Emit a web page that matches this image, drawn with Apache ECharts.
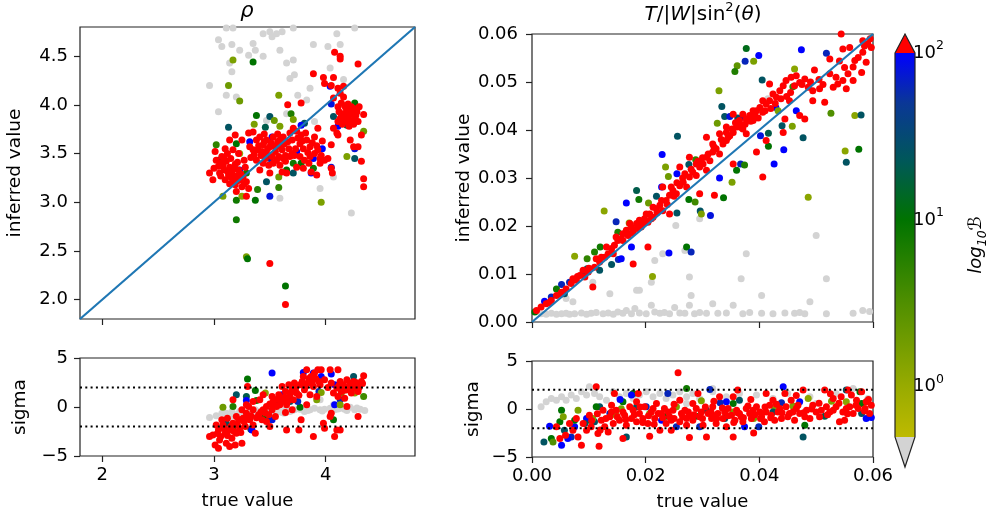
<!DOCTYPE html>
<html>
<head>
<meta charset="utf-8">
<script src="https://cdn.jsdelivr.net/npm/echarts@6/dist/echarts.min.js"></script>
<style>html,body{margin:0;background:#fff}#chart{width:990px;height:520px}</style>
</head>
<body>
<div id="chart"></div>
<script>
// axis ranges and ticks
const rhoRange = [1.8, 4.8]
const rhoXTicks = [2, 3, 4]
const rhoYTicks = [2.0, 2.5, 3.0, 3.5, 4.0, 4.5]
const twRange = [0, 0.06]
const twXTicks = [0, 0.02, 0.04, 0.06]
const twYTicks = [0, 0.01, 0.02, 0.03, 0.04, 0.05, 0.06]
const sigmaRange = [-5, 5]
const sigmaTicks = [-5, 0, 5]
const sigmaBand = [-2, 2]
const cbarRange = [0.5, 100]
const cbarDecades = [0, 1, 2]

// rho: inferred vs true. gray = B below range, red = B above range, mid = [x, y, log10 B]
const rhoGray = [[3.11,4.79],[3.17,4.79],[3.44,4.73],[3.50,4.75],[3.56,4.73],[3.61,4.75],[3.71,4.79],[4.10,4.73],[4.26,4.79],[3.04,4.67],[3.07,4.60],[3.16,4.62],[3.23,4.56],[3.35,4.63],[3.37,4.56],[3.44,4.50],[3.59,4.56],[3.52,4.70],[3.14,4.43],[3.16,4.34],[3.31,4.51],[3.65,4.43],[3.71,4.46],[3.89,4.62],[4.02,4.60],[4.13,4.62],[3.68,4.27],[3.72,4.31],[3.86,4.17],[3.75,4.10],[4.04,4.38],[4.16,4.26],[4.13,4.15],[2.96,4.20],[3.11,4.10],[3.20,4.08],[3.04,3.93],[3.65,3.91],[3.83,4.05],[3.95,3.14],[3.59,3.04],[4.23,2.89],[4.07,3.26],[3.47,3.84],[3.90,3.83]]
const rhoMid = [[3.17,4.46,0.2],[3.35,4.44,1.0],[3.13,4.20,0.3],[3.23,4.04,0.3],[3.58,4.10,0.2],[3.13,3.77,1.4],[3.38,3.89,1.0],[3.50,3.88,1.4],[3.54,3.84,0.3],[3.36,3.80,0.2],[3.46,3.77,1.3],[3.59,3.78,0.2],[3.69,3.91,0.8],[3.71,3.85,0.2],[3.02,3.59,0.7],[3.20,3.60,1.0],[3.23,3.50,0.1],[3.32,3.62,2.0],[3.52,3.67,2.0],[3.44,3.50,1.8],[3.47,3.21,1.4],[3.50,3.06,1.9],[3.58,3.15,0.7],[3.58,3.26,0.3],[3.37,3.02,1.0],[3.39,3.13,0.8],[3.25,3.06,0.1],[3.20,3.02,0.9],[3.20,2.82,0.9],[3.29,2.44,0.2],[3.30,2.42,1.0],[3.64,2.14,1.0],[3.08,3.06,0.2],[3.04,3.43,1.4],[3.71,3.40,0.9],[3.71,3.30,1.4],[3.78,3.40,1.0],[3.89,3.35,0.9],[3.87,3.30,2.0],[3.89,3.45,2.0],[3.97,3.55,2.0],[4.05,3.36,1.9],[3.96,3.00,0.2],[4.04,4.19,2.0],[4.05,4.01,1.9],[4.07,3.88,1.4],[4.11,3.78,2.0],[4.19,3.79,1.3],[4.25,3.81,1.9],[4.26,4.02,1.0],[4.34,3.73,0.3],[4.19,3.47,0.2],[4.26,3.45,1.4],[4.26,3.55,1.9],[3.81,3.81,1.4],[3.78,3.79,2.0],[3.74,3.52,2.0],[3.65,3.33,1.0],[3.63,3.62,0.2],[3.50,3.45,1.8],[3.29,3.30,0.9],[3.17,3.21,1.3],[3.23,3.33,1.9]]
const rhoRed = [[2.96,3.30],[2.99,3.23],[3.01,3.52],[3.02,3.43],[3.04,3.37],[3.05,3.30],[3.07,3.47],[3.08,3.38],[3.09,3.33],[3.10,3.23],[3.11,3.42],[3.13,3.28],[3.14,3.36],[3.14,3.19],[3.16,3.31],[3.17,3.24],[3.19,3.39],[3.19,3.18],[3.20,3.27],[3.22,3.33],[3.23,3.23],[3.25,3.16],[3.26,3.26],[3.28,3.36],[3.29,3.21],[3.31,3.14],[3.20,3.11],[3.29,3.06],[3.17,3.54],[3.10,3.55],[3.22,3.50],[3.19,3.69],[3.14,3.64],[3.25,3.64],[3.31,3.71],[3.35,3.72],[3.32,3.57],[3.35,3.54],
  [3.06,3.40],[3.09,3.45],[3.12,3.32],[3.15,3.26],[3.18,3.34],[3.21,3.22],[3.24,3.29],[3.27,3.19],[3.12,3.50],[3.06,3.27],[3.00,3.35],[3.15,3.45],[3.21,3.41],[3.27,3.43],[3.33,3.46],
  [3.38,3.64],[3.41,3.67],[3.44,3.59],[3.47,3.64],[3.50,3.57],[3.53,3.67],[3.56,3.57],[3.59,3.64],[3.62,3.67],[3.39,3.54],[3.42,3.48],[3.47,3.50],[3.52,3.47],[3.55,3.52],[3.58,3.47],[3.61,3.54],[3.64,3.48],[3.67,3.55],[3.38,3.43],[3.44,3.40],[3.49,3.38],[3.53,3.40],[3.59,3.38],[3.64,3.42],[3.68,3.47],[3.41,3.33],[3.50,3.30],[3.61,3.31],[3.65,3.30],[3.68,3.71],[3.71,3.76],[3.74,3.73],[3.70,3.64],[3.75,3.66],[3.78,3.69],
  [3.40,3.58],[3.45,3.62],[3.48,3.55],[3.51,3.61],[3.54,3.58],[3.57,3.62],[3.60,3.58],[3.63,3.60],[3.66,3.62],[3.43,3.52],[3.46,3.45],[3.56,3.43],[3.62,3.45],[3.70,3.50],[3.73,3.55],[3.36,3.49],[3.45,3.70],[3.57,3.70],
  [3.77,3.60],[3.80,3.55],[3.83,3.64],[3.86,3.57],[3.90,3.67],[3.93,3.76],[3.93,3.54],[3.96,3.48],[3.99,3.43],[3.72,3.48],[3.77,3.47],[3.81,3.43],[3.86,3.47],[3.90,3.50],[3.74,3.36],[3.80,3.35],[3.87,3.31],[3.92,3.28],[3.95,3.45],[4.02,3.45],
  [3.84,3.51],[3.88,3.61],[3.92,3.58],[3.79,3.63],[3.82,3.71],[3.97,3.63],[3.85,3.40],[3.95,3.40],
  [4.11,3.98],[4.14,4.02],[4.17,3.99],[4.20,4.01],[4.23,3.98],[4.26,3.96],[4.12,3.93],[4.16,3.91],[4.19,3.95],[4.22,3.93],[4.25,3.91],[4.28,3.93],[4.14,3.88],[4.17,3.86],[4.20,3.88],[4.23,3.84],[4.26,3.86],[4.11,3.83],[4.15,3.80],[4.21,3.78],[4.10,3.71],[4.29,3.83],[4.07,4.07],
  [4.18,3.97],[4.21,3.90],[4.24,3.95],[4.27,3.89],[4.13,3.86],[4.18,3.85],[4.25,3.80],[4.30,3.98],
  [4.08,4.54],[4.13,4.50],[4.13,4.47],[4.29,4.42],[3.89,4.32],[3.98,4.28],[4.07,4.28],[3.99,4.22],[4.05,4.20],[4.11,4.17],[4.13,4.12],[4.16,4.08],[4.16,4.19],[3.78,4.02],[3.66,4.00],[3.50,2.37],[3.64,1.95],[4.32,3.69],[4.34,3.90],[4.34,3.24],[4.34,3.16],[4.32,3.42],[4.29,3.57],[4.22,3.64],[4.25,3.57],[4.05,3.35],[4.06,3.30],[4.05,3.59],[4.11,3.69],[4.07,3.76],[4.19,3.83]]

// rho: sigma residuals
const rhoSigGray = [[2.96,-1.07],[3.02,-0.90],[3.07,-0.63],[3.11,-0.63],[3.16,-0.46],[3.19,-0.80],[3.23,-0.46],[3.28,-0.63],[3.32,-0.46],[3.37,-0.29],[3.41,-0.46],[3.46,-0.29],[3.50,-0.46],[3.55,-0.29],[3.59,-0.46],[3.64,-0.29],[3.68,-0.46],[3.72,-0.29],[3.77,-0.22],[3.81,-0.46],[3.86,-0.29],[3.90,-0.12],[3.95,-0.29],[3.99,-0.22],[4.04,-0.12],[4.08,-0.29],[4.13,-0.12],[4.17,-0.22],[4.22,-0.02],[4.26,-0.29],[4.31,-0.22],[4.35,-0.36],[3.95,0.73],[4.07,0.22],[3.63,-0.63],[3.35,-0.80],[3.14,-1.04],[3.25,-0.55],[3.43,-0.35],[3.53,-0.40],[3.70,-0.35],[3.84,-0.35],[3.97,-0.40],[4.11,-0.20],[4.19,-0.35],[4.28,-0.10],[3.61,-0.55]]
const rhoSigMid = [[3.30,2.85,1.0],[3.52,3.46,2.0],[3.20,1.25,1.4],[3.29,1.08,1.3],[3.37,1.69,1.0],[3.29,0.67,2.0],[3.38,0.67,0.9],[3.08,-0.02,0.3],[3.17,0.05,0.8],[3.17,-2.06,1.0],[3.25,-1.31,0.1],[3.11,-1.66,1.4],[3.33,-2.27,1.4],[3.34,-2.34,2.0],[3.47,-1.38,1.4],[3.52,-1.31,1.9],[3.56,0.73,1.4],[3.61,1.25,2.0],[3.65,0.90,0.2],[3.77,-0.02,1.0],[3.75,0.56,1.8],[3.80,3.53,2.0],[3.89,3.46,2.0],[3.96,3.12,2.0],[4.05,3.36,2.0],[3.94,1.59,1.8],[3.96,1.48,0.2],[3.92,0.73,0.2],[4.08,2.27,2.0],[4.08,0.22,2.0],[4.13,0.73,1.8],[4.14,1.42,0.3],[4.13,0.22,0.2],[4.07,-1.31,1.0],[4.19,1.76,0.2],[4.26,1.42,0.1],[4.25,3.12,1.4],[4.23,2.27,1.4],[4.34,1.08,0.6],[4.22,1.93,1.7],[3.46,1.42,0.1],[3.68,0.56,1.4],[3.44,-0.97,1.0]]
const rhoSigRed = [[2.96,-3.02],[3.01,-3.87],[3.04,-2.34],[3.05,-3.36],[3.08,-1.83],[3.10,-2.68],[3.11,-3.70],[3.14,-2.34],[3.16,-3.19],[3.17,-1.66],[3.19,-3.87],[3.20,-2.68],[3.22,-1.31],[3.23,-2.17],[3.25,-3.70],[3.26,-1.14],[3.28,-2.00],[3.29,-0.63],[3.31,0.05],[3.32,-1.31],[3.35,-1.83],[3.37,-2.68],[3.02,-1.83],[3.07,-1.31],[3.12,-1.14],[3.17,0.73],[3.20,-0.97],[3.25,-0.29],[3.30,2.10],[3.29,0.22],[3.04,-4.22],[3.14,-4.04],[2.99,-2.85],[3.35,-0.29],
  [3.03,-2.70],[3.06,-3.00],[3.09,-2.20],[3.12,-2.90],[3.15,-2.00],[3.18,-2.50],[3.21,-1.80],[3.24,-2.60],[3.27,-1.50],[3.30,-1.00],[3.33,-0.90],[3.38,-1.10],[3.42,-0.50],[3.46,-0.60],
  [3.40,-0.80],[3.43,-1.31],[3.44,-0.29],[3.47,0.05],[3.49,-0.80],[3.52,-0.29],[3.53,0.56],[3.55,-0.97],[3.56,0.05],[3.58,1.25],[3.59,0.22],[3.61,2.10],[3.62,0.73],[3.64,1.59],[3.65,0.22],[3.67,2.27],[3.68,1.25],[3.70,1.76],[3.71,0.73],[3.72,2.44],[3.74,1.42],[3.47,-1.49],[3.50,-2.00],[3.41,0.73],[3.44,1.25],[3.52,1.08],[3.35,0.56],[3.65,-2.34],[3.70,-0.29],[3.64,-0.56],[3.78,-1.31],[3.76,-2.34],[3.83,0.22],
  [3.50,0.30],[3.54,0.20],[3.57,0.80],[3.60,0.50],[3.63,1.00],[3.66,0.60],[3.69,1.50],[3.73,1.90],[3.76,1.20],[3.79,2.60],[3.82,2.10],[3.85,2.90],[3.88,2.50],[3.91,2.90],[3.94,2.60],
  [3.77,2.27],[3.80,3.12],[3.81,1.76],[3.83,3.80],[3.84,2.44],[3.86,1.25],[3.87,3.12],[3.89,2.10],[3.90,3.46],[3.92,1.08],[3.93,3.80],[3.95,2.27],[3.96,3.80],[3.99,2.78],[3.89,-3.02],[3.98,-1.66],[3.99,-2.17],
  [4.04,3.80],[4.11,3.80],[4.05,2.44],[4.07,1.42],[4.10,1.93],[4.11,1.08],[4.13,2.61],[4.14,1.59],[4.16,2.27],[4.17,0.90],[4.19,2.78],[4.20,1.76],[4.22,2.44],[4.23,1.42],[4.25,2.61],[4.26,1.93],[4.28,2.27],[4.29,1.59],[4.32,2.61],[4.34,3.19],[4.29,-0.97],[4.10,-2.34],[4.08,-3.02],[4.13,-2.34],[4.05,-0.63],[4.19,0.05],[4.04,-0.97],
  [4.02,2.00],[4.12,2.20],[4.17,1.70],[4.21,2.00],[4.24,2.20],[4.27,2.50],[4.30,2.00],[4.33,2.40]]

// T/|W| sin^2(theta): inferred vs true
const twGray = [[0.0016,0.0017],[0.0025,0.0016],[0.0034,0.0018],[0.0043,0.0016],[0.0052,0.0017],[0.0060,0.0018],[0.0066,0.0016],[0.0075,0.0017],[0.0087,0.0019],[0.0096,0.0016],[0.0104,0.0018],[0.0113,0.0020],[0.0125,0.0017],[0.0134,0.0019],[0.0143,0.0016],[0.0151,0.0021],[0.0160,0.0018],[0.0166,0.0024],[0.0175,0.0017],[0.0181,0.0028],[0.0189,0.0019],[0.0201,0.0017],[0.0210,0.0035],[0.0216,0.0021],[0.0225,0.0018],[0.0233,0.0020],[0.0242,0.0017],[0.0251,0.0030],[0.0260,0.0019],[0.0269,0.0018],[0.0277,0.0035],[0.0286,0.0017],[0.0295,0.0020],[0.0307,0.0018],[0.0318,0.0038],[0.0327,0.0018],[0.0342,0.0019],[0.0354,0.0035],[0.0371,0.0017],[0.0383,0.0020],[0.0404,0.0018],[0.0424,0.0017],[0.0445,0.0019],[0.0462,0.0018],[0.0471,0.0020],[0.0480,0.0017],[0.0489,0.0042],[0.0518,0.0017],[0.0565,0.0018],[0.0582,0.0024],[0.0594,0.0022],
  [0.0137,0.0059],[0.0184,0.0066],[0.0189,0.0066],[0.0216,0.0128],[0.0230,0.0142],[0.0253,0.0201],[0.0269,0.0149],[0.0277,0.0094],[0.0295,0.0215],[0.0280,0.0055],[0.0377,0.0142],[0.0368,0.0090],[0.0210,0.0083],[0.0404,0.0055],[0.0518,0.0090],[0.0500,0.0180],[0.0415,0.0465],[0.0107,0.0083],[0.0072,0.0042],[0.0060,0.0049]]
const twMid = [[0.0377,0.0570,1.1],[0.0474,0.0567,2.0],[0.0518,0.0560,1.8],[0.0375,0.0543,1.8],[0.0399,0.0555,2.0],[0.0361,0.0534,0.4],[0.0390,0.0543,0.2],[0.0357,0.0522,0.8],[0.0405,0.0504,1.4],[0.0462,0.0527,0.1],[0.0329,0.0482,0.2],[0.0459,0.0490,0.7],[0.0334,0.0449,1.4],[0.0526,0.0435,0.5],[0.0568,0.0430,0.1],[0.0579,0.0431,1.4],[0.0339,0.0428,1.4],[0.0348,0.0428,1.9],[0.0362,0.0425,1.4],[0.0371,0.0427,1.8],[0.0326,0.0414,0.3],[0.0440,0.0409,1.4],[0.0429,0.0447,2.0],[0.0465,0.0440,2.0],[0.0433,0.0440,0.2],[0.0477,0.0384,1.4],[0.0458,0.0408,0.2],[0.0416,0.0393,1.3],[0.0402,0.0388,1.9],[0.0256,0.0387,1.4],[0.0229,0.0349,2.0],[0.0416,0.0366,1.0],[0.0443,0.0359,2.0],[0.0551,0.0356,0.1],[0.0575,0.0360,1.0],[0.0553,0.0333,1.4],[0.0426,0.0329,2.0],[0.0367,0.0329,1.8],[0.0374,0.0327,0.8],[0.0360,0.0316,1.0],[0.0330,0.0300,2.0],[0.0352,0.0291,0.2],[0.0255,0.0309,2.0],[0.0235,0.0323,0.2],[0.0240,0.0303,0.3],[0.0228,0.0281,2.0],[0.0288,0.0338,0.7],[0.0276,0.0328,1.4],[0.0219,0.0262,1.4],[0.0276,0.0255,1.0],[0.0287,0.0250,0.6],[0.0486,0.0260,0.1],[0.0337,0.0259,1.0],[0.0296,0.0231,1.4],[0.0298,0.0225,0.2],[0.0314,0.0222,1.9],[0.0255,0.0227,1.4],[0.0184,0.0274,1.3],[0.0188,0.0255,0.9],[0.0205,0.0248,0.3],[0.0166,0.0248,2.0],[0.0148,0.0209,1.8],[0.0127,0.0231,0.1],[0.0171,0.0206,0.2],[0.0151,0.0187,0.8],[0.0120,0.0156,0.9],[0.0110,0.0146,0.8],[0.0075,0.0137,0.1],[0.0097,0.0132,0.7],[0.0097,0.0111,1.4],[0.0140,0.0120,1.4],[0.0152,0.0130,1.8],[0.0175,0.0156,2.0],[0.0241,0.0144,2.0],[0.0272,0.0156,1.0],[0.0280,0.0146,1.8],[0.0212,0.0095,0.1],[0.0090,0.0104,1.4],[0.0157,0.0132,2.0],[0.0052,0.0078,1.8],[0.0043,0.0069,0.9],[0.0022,0.0043,2.0],[0.0034,0.0052,1.8],[0.0005,0.0021,1.0],[0.0057,0.0059,1.4],[0.0066,0.0083,1.8],[0.0119,0.0108,1.4]]
const twRed = [[0.0008,0.0024],[0.0016,0.0031],[0.0025,0.0038],[0.0034,0.0045],[0.0043,0.0055],[0.0052,0.0062],[0.0060,0.0069],[0.0069,0.0080],[0.0078,0.0087],[0.0084,0.0097],[0.0093,0.0094],[0.0099,0.0104],[0.0107,0.0073],[0.0110,0.0114],[0.0119,0.0125],[0.0128,0.0135],[0.0134,0.0142],[0.0140,0.0153],[0.0145,0.0160],[0.0151,0.0170],[0.0157,0.0173],[0.0160,0.0184],[0.0166,0.0191],[0.0169,0.0180],[0.0175,0.0198],[0.0178,0.0187],[0.0184,0.0205],[0.0189,0.0212],[0.0192,0.0198],[0.0198,0.0215],[0.0204,0.0208],[0.0207,0.0225],[0.0213,0.0218],[0.0219,0.0236],[0.0225,0.0243],[0.0230,0.0232],[0.0236,0.0253],[0.0242,0.0264],[0.0248,0.0274],[0.0254,0.0267],[0.0260,0.0284],[0.0266,0.0291],[0.0272,0.0281],[0.0277,0.0302],[0.0283,0.0312],[0.0289,0.0305],[0.0295,0.0323],[0.0301,0.0329],[0.0307,0.0343],[0.0313,0.0336],[0.0318,0.0354],[0.0324,0.0361],[0.0330,0.0350],[0.0336,0.0371],[0.0342,0.0378],[0.0348,0.0388],[0.0354,0.0395],[0.0360,0.0406],[0.0365,0.0413],[0.0371,0.0402],[0.0377,0.0423],[0.0383,0.0430],[0.0389,0.0420],[0.0395,0.0440],[0.0401,0.0447],[0.0406,0.0437],[0.0412,0.0454],[0.0418,0.0461],[0.0424,0.0475],[0.0430,0.0468],[0.0436,0.0482],[0.0442,0.0492],[0.0447,0.0503],[0.0456,0.0510],[0.0465,0.0513],[0.0471,0.0499],[0.0480,0.0506],[0.0486,0.0489],[0.0494,0.0482],[0.0506,0.0486],[0.0515,0.0458],[0.0530,0.0489],[0.0538,0.0496],[0.0547,0.0503],[0.0553,0.0486],[0.0556,0.0517],[0.0565,0.0531],[0.0574,0.0551],[0.0582,0.0562],[0.0588,0.0541],[0.0591,0.0579],[0.0597,0.0572],[0.0559,0.0572],[0.0547,0.0569],[0.0541,0.0544],[0.0524,0.0548],[0.0497,0.0525],[0.0582,0.0586],[0.0544,0.0600],
  [0.0406,0.0302],[0.0354,0.0329],[0.0321,0.0264],[0.0295,0.0267],[0.0204,0.0156],[0.0178,0.0121],[0.0307,0.0385],[0.0277,0.0343],[0.0260,0.0323],[0.0442,0.0395],[0.0445,0.0423],[0.0480,0.0423],[0.0494,0.0461],[0.0412,0.0378],[0.0395,0.0354],[0.0371,0.0433],[0.0354,0.0433],[0.0342,0.0406],[0.0453,0.0461],[0.0471,0.0430],[0.0418,0.0496],[0.0524,0.0517],[0.0565,0.0503],[0.0580,0.0520],[0.0143,0.0142],[0.0230,0.0281],[0.0242,0.0225],[0.0307,0.0316],[0.0330,0.0392],[0.0377,0.0392],
  [0.0201,0.0225],[0.0213,0.0239],[0.0228,0.0253],[0.0245,0.0281],[0.0269,0.0309],[0.0289,0.0329],[0.0318,0.0371],[0.0342,0.0395],[0.0365,0.0420],[0.0389,0.0440],[0.0406,0.0461],[0.0172,0.0205],[0.0148,0.0177],[0.0131,0.0156],[0.0113,0.0132],[0.0090,0.0108],[0.0072,0.0090],
  [0.0255,0.0290],[0.0265,0.0300],[0.0280,0.0318],[0.0292,0.0335],[0.0300,0.0342],[0.0310,0.0350],[0.0320,0.0365],[0.0333,0.0380],[0.0345,0.0385],[0.0352,0.0402],[0.0358,0.0415],[0.0368,0.0405],[0.0375,0.0412],[0.0385,0.0418],[0.0392,0.0430],[0.0398,0.0425],[0.0410,0.0440],[0.0420,0.0445],[0.0428,0.0455],[0.0438,0.0465],[0.0448,0.0470],[0.0455,0.0478],[0.0462,0.0492],[0.0475,0.0495],[0.0490,0.0500],[0.0505,0.0505],[0.0512,0.0495],[0.0535,0.0510],[0.0550,0.0530],[0.0568,0.0545],[0.0585,0.0575],[0.0595,0.0590],[0.0160,0.0170],[0.0175,0.0185],[0.0185,0.0195],[0.0195,0.0205],[0.0210,0.0215],[0.0220,0.0228],[0.0238,0.0245],[0.0250,0.0262],[0.0122,0.0135],[0.0100,0.0112],[0.0080,0.0095],[0.0050,0.0058],[0.0030,0.0040]]

// T/|W| sin^2(theta): sigma residuals
const twSigGray = [[0.0016,0.23],[0.0025,0.75],[0.0034,1.10],[0.0043,0.92],[0.0052,1.27],[0.0060,0.92],[0.0069,1.45],[0.0078,1.10],[0.0087,1.79],[0.0096,1.45],[0.0101,2.32],[0.0110,1.62],[0.0119,1.27],[0.0131,0.92],[0.0143,1.79],[0.0154,1.27],[0.0166,1.62],[0.0178,1.10],[0.0189,1.45],[0.0201,1.79],[0.0213,1.27],[0.0225,1.62],[0.0236,1.10],[0.0248,1.45],[0.0254,0.23],[0.0260,1.79],[0.0272,1.27],[0.0283,1.62],[0.0295,1.10],[0.0318,1.79],[0.0342,1.27],[0.0365,1.62],[0.0395,1.45],[0.0424,1.10],[0.0450,1.62],[0.0489,1.27],[0.0500,0.58],[0.0535,1.62],[0.0565,2.14],[0.0591,1.10],[0.0318,2.14],[0.0272,0.58]]
const twSigMid = [[0.0272,2.14,0.9],[0.0313,2.04,1.8],[0.0442,2.32,2.0],[0.0553,1.97,1.4],[0.0577,1.79,1.0],[0.0527,0.82,0.2],[0.0486,1.10,0.1],[0.0553,0.75,0.1],[0.0580,0.58,1.0],[0.0580,-0.47,1.4],[0.0588,-0.99,2.0],[0.0597,-0.89,2.0],[0.0515,-0.75,1.3],[0.0480,-1.69,1.0],[0.0477,-2.91,1.4],[0.0471,0.75,2.0],[0.0439,0.64,1.8],[0.0435,-0.12,0.8],[0.0427,0.05,0.2],[0.0459,0.30,0.2],[0.0424,-0.30,1.4],[0.0399,-1.86,1.8],[0.0390,-0.99,0.2],[0.0374,-1.86,2.0],[0.0365,0.92,1.4],[0.0354,0.58,1.0],[0.0342,0.75,2.0],[0.0331,0.64,1.8],[0.0354,-0.30,0.2],[0.0339,-0.99,1.4],[0.0295,-1.86,1.8],[0.0289,-0.75,1.0],[0.0298,0.85,0.2],[0.0307,-0.12,1.4],[0.0254,0.23,0.2],[0.0254,-1.86,1.8],[0.0236,-0.75,1.0],[0.0239,1.62,1.8],[0.0228,-1.17,2.0],[0.0207,-0.47,0.2],[0.0201,0.23,1.8],[0.0184,0.23,1.4],[0.0178,1.62,1.0],[0.0175,1.45,2.0],[0.0166,-2.91,1.4],[0.0160,0.75,1.0],[0.0157,0.02,0.2],[0.0155,1.00,2.0],[0.0148,-0.64,0.2],[0.0137,-0.47,1.8],[0.0119,0.23,1.4],[0.0113,0.23,1.0],[0.0110,-1.34,1.4],[0.0107,-0.99,0.2],[0.0101,-1.17,1.0],[0.0096,-0.99,2.0],[0.0093,-1.52,1.4],[0.0081,-0.12,0.2],[0.0075,-1.86,2.0],[0.0075,-1.17,1.0],[0.0069,-2.91,1.8],[0.0063,-3.08,2.0],[0.0057,-2.21,1.4],[0.0052,-0.12,1.0],[0.0049,-1.34,1.0],[0.0055,-0.82,0.2],[0.0052,-3.78,2.0],[0.0034,-3.08,1.0],[0.0037,-3.43,0.5],[0.0031,-1.79,2.0],[0.0021,-3.43,1.4]]
const twSigRed = [[0.0043,-1.86],[0.0049,-3.08],[0.0059,-2.74],[0.0066,-1.52],[0.0072,-2.21],[0.0078,-0.99],[0.0081,-2.91],[0.0087,-3.78],[0.0090,-1.52],[0.0096,-2.21],[0.0101,-0.64],[0.0104,-1.86],[0.0113,2.32],[0.0116,-2.56],[0.0118,-3.89],[0.0122,-1.17],[0.0125,-0.12],[0.0128,-1.86],[0.0134,-2.39],[0.0137,-0.82],[0.0140,0.40],[0.0143,-1.52],[0.0145,1.62],[0.0148,-0.12],[0.0154,-1.17],[0.0160,-3.08],[0.0163,-0.64],[0.0166,-1.69],[0.0172,0.23],[0.0175,-0.99],[0.0178,-0.12],[0.0184,-1.34],[0.0187,1.62],[0.0189,-0.47],[0.0195,-0.99],[0.0198,0.23],[0.0204,-1.52],[0.0207,-2.84],[0.0210,-0.30],[0.0216,-0.99],[0.0219,0.58],[0.0225,-2.21],[0.0228,-0.47],[0.0233,0.05],[0.0236,-1.52],[0.0242,-0.82],[0.0245,-2.21],[0.0248,-0.12],[0.0257,3.78],[0.0260,-1.34],[0.0263,-0.47],[0.0269,-0.12],[0.0272,-1.69],[0.0277,-2.98],[0.0277,-0.64],[0.0283,-1.17],[0.0289,0.05],[0.0292,1.62],[0.0295,-0.82],[0.0301,-1.69],[0.0307,-2.91],[0.0310,-0.47],[0.0316,-0.99],[0.0318,0.23],[0.0324,-1.52],[0.0327,-0.47],[0.0330,1.27],[0.0336,-0.99],[0.0342,-1.86],[0.0345,0.05],[0.0351,-0.64],[0.0354,-2.91],[0.0357,-1.17],[0.0360,-0.12],[0.0362,1.97],[0.0368,-0.82],[0.0371,-1.34],[0.0377,0.05],[0.0383,-0.47],[0.0386,-0.99],[0.0390,-2.49],[0.0395,0.23],[0.0401,-0.30],[0.0404,-0.82],[0.0409,-1.34],[0.0412,1.62],[0.0418,0.40],[0.0421,-0.64],[0.0427,-1.17],[0.0433,-0.30],[0.0439,-0.99],[0.0445,1.62],[0.0447,0.23],[0.0453,-0.47],[0.0456,0.92],[0.0462,-1.17],[0.0465,0.05],[0.0471,-0.47],[0.0477,1.97],[0.0483,-0.12],[0.0489,-0.99],[0.0494,0.40],[0.0500,-0.30],[0.0509,-0.12],[0.0515,1.97],[0.0518,0.23],[0.0524,-0.30],[0.0530,1.10],[0.0535,0.23],[0.0541,-1.34],[0.0544,1.27],[0.0547,-0.30],[0.0550,-1.17],[0.0556,1.97],[0.0559,0.23],[0.0562,1.45],[0.0565,-0.47],[0.0571,0.92],[0.0574,0.05],[0.0580,1.79],[0.0586,0.05],[0.0588,0.75],[0.0594,-0.47],[0.0597,0.40],
  [0.0213,0.05],[0.0222,-0.47],[0.0245,-1.17],[0.0272,-0.99],[0.0298,-0.30],[0.0318,-0.64],[0.0339,-0.30],[0.0365,-0.47],[0.0389,-0.12],[0.0412,-0.30],[0.0436,0.05],[0.0459,-0.30],[0.0480,-0.82],[0.0506,-0.82],[0.0530,-0.12],[0.0553,0.05],[0.0283,0.58],[0.0354,1.27],[0.0424,0.92],[0.0260,0.92],[0.0184,0.75],[0.0160,-0.30],
  [0.0105,-1.2],[0.0115,-0.5],[0.0130,-1.0],[0.0150,-0.8],[0.0165,-1.1],[0.0180,-0.6],[0.0195,-1.4],[0.0205,-0.7],[0.0215,-1.6],[0.0230,-0.9],[0.0240,-0.3],[0.0250,-1.0],[0.0265,-0.8],[0.0275,-0.3],[0.0285,-0.6],[0.0300,-1.0],[0.0305,0.2],[0.0315,-0.3],[0.0325,-1.0],[0.0335,0.1],[0.0345,-0.7],[0.0355,-1.4],[0.0362,-0.4],[0.0372,-0.9],[0.0380,0.3],[0.0392,-0.6],[0.0402,-1.0],[0.0410,0.2],[0.0420,-0.9],[0.0430,0.5],[0.0440,-0.4],[0.0450,-0.8],[0.0468,0.4],[0.0478,-0.4],[0.0492,0.0],[0.0505,0.6],[0.0520,-0.6],[0.0540,0.6],[0.0555,-0.5],[0.0570,0.4],[0.0585,-0.2],[0.0592,1.0],[0.0525,1.6],[0.0465,1.4],[0.0385,1.0],[0.0320,0.8],[0.0250,0.5],[0.0190,0.2],[0.0140,-0.3],[0.0120,-2.2]]

const FONT = 'DejaVu Sans'
const GRAY = '#d3d3d3'
const RED = '#ff0000'
const LOG_MIN = Math.log10(cbarRange[0])
const LOG_MAX = Math.log10(cbarRange[1])
const cmapLevels = [LOG_MIN, 0, 0.5, 1, 1.35, 1.7, LOG_MAX]
const cmapColors = [[190,186,0],[152,171,0],[80,143,0],[0,115,0],[0,88,88],[10,55,150],[0,0,255]]

const colorFor = (lb) => {
    if (lb < LOG_MIN) return GRAY
    if (lb > LOG_MAX) return RED
    let i = 0
    while (i < cmapLevels.length - 2 && lb > cmapLevels[i + 1]) i++
    const t = (lb - cmapLevels[i]) / (cmapLevels[i + 1] - cmapLevels[i])
    const c = cmapColors[i].map((v, k) => Math.round(v + t * (cmapColors[i + 1][k] - v)))
    return `rgb(${c[0]},${c[1]},${c[2]})`
}

const txt = { fontFamily: FONT, color: '#000' }

const xAxisFor = (grid, range, ticks, showLabels, fmt) => ({
    type: 'value', gridIndex: grid, min: range[0], max: range[1],
    axisLine: { show: false, onZero: false }, splitLine: { show: false },
    axisTick: { show: true, customValues: ticks, length: 6, lineStyle: { color: '#222', width: 1.2 } },
    axisLabel: { show: showLabels, customValues: ticks, formatter: fmt, margin: 10, fontSize: 18, ...txt },
    name: showLabels ? 'true value' : null, nameLocation: 'middle', nameGap: 36,
    nameTextStyle: { fontSize: 18, ...txt }
})

const yAxisFor = (grid, range, ticks, fmt, name, gap, margin) => ({
    type: 'value', gridIndex: grid, min: range[0], max: range[1],
    axisLine: { show: false, onZero: false }, splitLine: { show: false },
    axisTick: { show: true, customValues: ticks, length: 6, lineStyle: { color: '#222', width: 1.2 } },
    axisLabel: { customValues: ticks, formatter: fmt, margin: margin, fontSize: 18, ...txt },
    name: name, nameLocation: 'middle', nameGap: gap, nameRotate: 90,
    nameTextStyle: { fontSize: 18.5, ...txt }
})

const scatter = (grid, data, color, z) => ({
    type: 'scatter', xAxisIndex: grid, yAxisIndex: grid, data: data,
    symbolSize: 7, itemStyle: { color: color, opacity: 1 }, z: z, silent: true
})

const segment = (grid, data, color, width, type) => ({
    type: 'line', xAxisIndex: grid, yAxisIndex: grid, data: data, symbol: 'none',
    lineStyle: { color: color, width: width, type: type }, z: 10, silent: true
})

const fmt1 = v => v.toFixed(1)
const fmt2 = v => v.toFixed(2)
const fmtInt = v => (v < 0 ? '\u2212' : '') + Math.abs(v)

// minor ticks of the log colorbar
const cbarMinor = []
for (let d = -1; d <= 1; d++) {
    for (let k = 2; k <= 9; k++) {
        const v = Math.log10(k * Math.pow(10, d))
        if (v >= LOG_MIN && v <= LOG_MAX) cbarMinor.push(v)
    }
}

const cb = { left: 895, top: 53, width: 20, height: 384 }
const gradStops = cmapLevels.map((lv, i) => ({
    offset: (LOG_MAX - lv) / (LOG_MAX - LOG_MIN),
    color: `rgb(${cmapColors[i].join(',')})`
})).reverse()

const gridBox = { show: true, borderColor: '#222', borderWidth: 1.2, backgroundColor: 'transparent' }

const chart = echarts.init(document.getElementById('chart'))
chart.setOption({
    animation: false,
    grid: [
        { left: 80, top: 27, width: 335, height: 292, ...gridBox },
        { left: 80, top: 358, width: 335, height: 98, ...gridBox },
        { left: 532, top: 34, width: 341, height: 288, ...gridBox },
        { left: 532, top: 361, width: 341, height: 96, ...gridBox },
        { ...cb, show: false }
    ],
    xAxis: [
        xAxisFor(0, rhoRange, rhoXTicks, false, fmtInt),
        xAxisFor(1, rhoRange, rhoXTicks, true, fmtInt),
        xAxisFor(2, twRange, twXTicks, false, fmt2),
        xAxisFor(3, twRange, twXTicks, true, fmt2),
        { type: 'value', gridIndex: 4, min: 0, max: 1, show: false }
    ],
    yAxis: [
        yAxisFor(0, rhoRange, rhoYTicks, fmt1, 'inferred value', 55, 12),
        yAxisFor(1, sigmaRange, sigmaTicks, fmtInt, 'sigma', 50, 12),
        yAxisFor(2, twRange, twYTicks, fmt2, 'inferred value', 58, 14),
        yAxisFor(3, sigmaRange, sigmaTicks, fmtInt, 'sigma', 49, 14),
        {
            type: 'value', gridIndex: 4, position: 'right', min: LOG_MIN, max: LOG_MAX,
            axisLine: { show: false, onZero: false }, splitLine: { show: false },
            axisTick: { show: true, customValues: cbarDecades, length: 6, lineStyle: { color: '#222', width: 1.2 } },
            axisLabel: {
                customValues: cbarDecades, margin: 10,
                formatter: v => '{b|10}{s|' + Math.round(v) + '}',
                rich: {
                    b: { fontSize: 18, lineHeight: 27, ...txt },
                    s: { fontSize: 12.5, lineHeight: 13, verticalAlign: 'top', ...txt }
                }
            },
            name: '{i|log}{sub|10}{i|\u212C}', nameLocation: 'middle', nameRotate: 90, nameGap: 60,
            nameTextStyle: {
                rich: {
                    i: { fontSize: 18, fontStyle: 'italic', lineHeight: 26, ...txt },
                    sub: { fontSize: 12.5, fontStyle: 'italic', lineHeight: 12, verticalAlign: 'bottom', ...txt }
                }
            }
        },
        {
            type: 'value', gridIndex: 4, position: 'right', min: LOG_MIN, max: LOG_MAX,
            axisLine: { show: false, onZero: false }, splitLine: { show: false }, axisLabel: { show: false },
            axisTick: { show: true, customValues: cbarMinor, length: 3.5, lineStyle: { color: '#222', width: 1 } }
        }
    ],
    graphic: [
        { type: 'rect', shape: { x: cb.left, y: cb.top, width: cb.width, height: cb.height },
          style: { fill: new echarts.graphic.LinearGradient(0, 0, 0, 1, gradStops) }, z: 1 },
        { type: 'polygon', shape: { points: [[cb.left, cb.top], [cb.left + cb.width / 2, cb.top - 19], [cb.left + cb.width, cb.top]] },
          style: { fill: RED }, z: 1 },
        { type: 'polygon', shape: { points: [[cb.left, cb.top + cb.height], [cb.left + cb.width / 2, cb.top + cb.height + 30], [cb.left + cb.width, cb.top + cb.height]] },
          style: { fill: GRAY }, z: 1 },
        { type: 'polygon', shape: { points: [[cb.left, cb.top], [cb.left + cb.width / 2, cb.top - 19], [cb.left + cb.width, cb.top], [cb.left + cb.width, cb.top + cb.height], [cb.left + cb.width / 2, cb.top + cb.height + 30], [cb.left, cb.top + cb.height]] },
          style: { fill: 'none', stroke: '#222', lineWidth: 1.2 }, z: 2 },
        { type: 'text', x: 247, y: 1, style: { text: '{i|\u03C1}', textAlign: 'center',
          rich: { i: { fontSize: 21, fontStyle: 'italic', ...txt } } } },
        { type: 'text', x: 703, y: 1, style: {
          text: '{i|T}{n|/|}{i|W}{n||sin}{s|2}{n|(}{i|\u03B8}{n|)}', textAlign: 'center',
          rich: {
              i: { fontSize: 20, fontStyle: 'italic', lineHeight: 28, ...txt },
              n: { fontSize: 20, lineHeight: 28, ...txt },
              s: { fontSize: 13, lineHeight: 14, verticalAlign: 'top', ...txt }
          } } }
    ],
    series: [
        scatter(0, rhoGray, GRAY, 2),
        scatter(0, rhoMid, p => colorFor(p.value[2]), 3),
        scatter(0, rhoRed, RED, 4),
        segment(0, rhoRange.map(v => [v, v]), '#1f77b4', 2.2, 'solid'),
        scatter(1, rhoSigGray, GRAY, 2),
        scatter(1, rhoSigMid, p => colorFor(p.value[2]), 3),
        scatter(1, rhoSigRed, RED, 4),
        segment(1, rhoRange.map(x => [x, sigmaBand[1]]), '#000', 2, [2, 3.3]),
        segment(1, rhoRange.map(x => [x, sigmaBand[0]]), '#000', 2, [2, 3.3]),
        scatter(2, twGray, GRAY, 2),
        scatter(2, twMid, p => colorFor(p.value[2]), 3),
        scatter(2, twRed, RED, 4),
        segment(2, twRange.map(v => [v, v]), '#1f77b4', 2.2, 'solid'),
        scatter(3, twSigGray, GRAY, 2),
        scatter(3, twSigMid, p => colorFor(p.value[2]), 3),
        scatter(3, twSigRed, RED, 4),
        segment(3, twRange.map(x => [x, sigmaBand[1]]), '#000', 2, [2, 3.3]),
        segment(3, twRange.map(x => [x, sigmaBand[0]]), '#000', 2, [2, 3.3])
    ]
})

window.addEventListener('resize', () => {
    chart.resize()
})
</script>
</body>
</html>
